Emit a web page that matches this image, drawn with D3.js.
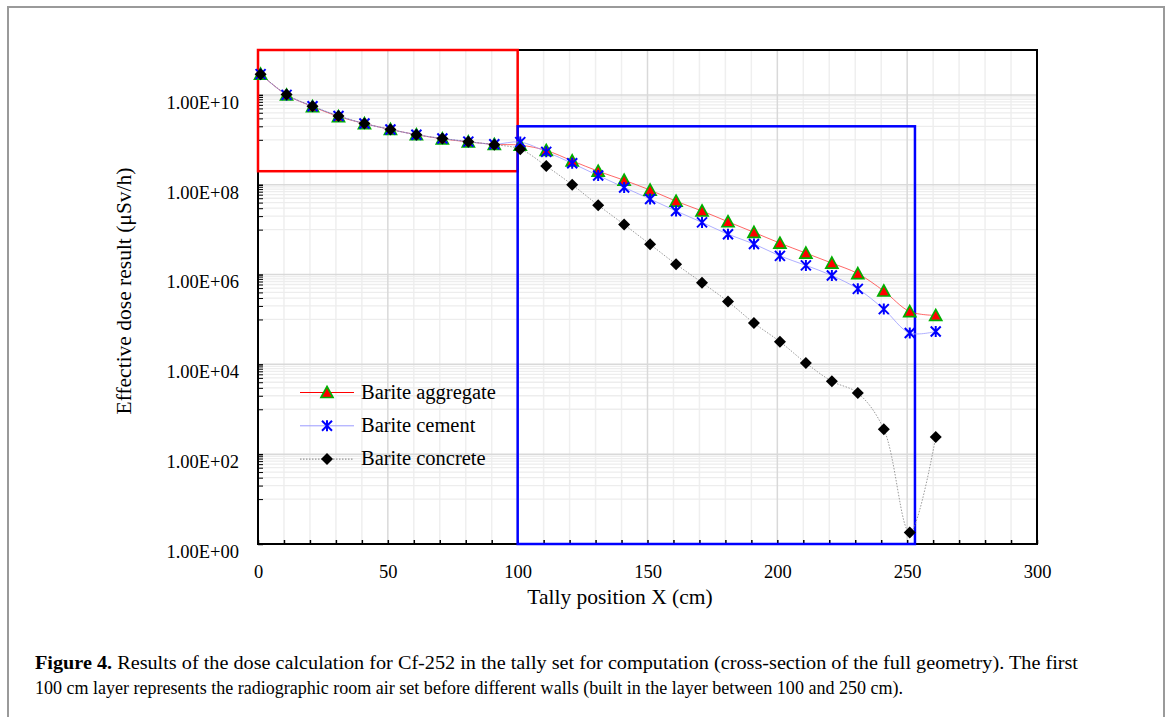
<!DOCTYPE html>
<html>
<head>
<meta charset="utf-8" />
<title>Figure 4 - dose vs tally position</title>
<script src="https://cdn.jsdelivr.net/npm/d3@7"></script>
<style>
  html, body { margin: 0; padding: 0; background: #fff; }
  svg { display: block; }
  text { font-family: "Liberation Serif", "Times New Roman", serif; fill: #000; }
</style>
</head>
<body>
<svg id="chart" width="1170" height="717"></svg>
<script>
// tally positions (cm)
var positions = [1, 11, 21, 31, 41, 51, 61, 71, 81, 91, 101, 111, 121, 131, 141,
                 151, 161, 171, 181, 191, 201, 211, 221, 231, 241, 251, 261];

// effective dose (uSv/h)
var aggregate = [2.9e10, 1.0e10, 5.5e9, 3.3e9, 2.3e9, 1.7e9, 1.3e9, 1.05e9, 9.0e8, 7.9e8,
                 7.6e8, 5.8e8, 3.4e8, 2.0e8, 1.26e8, 7.6e7, 4.3e7, 2.6e7, 1.5e7, 8.7e6,
                 5.0e6, 3.0e6, 1.8e6, 1.05e6, 4.3e5, 1.5e5, 1.23e5];
var cement    = [2.9e10, 1.0e10, 5.6e9, 3.4e9, 2.3e9, 1.7e9, 1.3e9, 1.07e9, 9.1e8, 8.0e8,
                 8.9e8, 5.4e8, 3.0e8, 1.6e8, 8.7e7, 4.8e7, 2.6e7, 1.45e7, 7.9e6, 4.8e6,
                 2.6e6, 1.6e6, 9.5e5, 4.8e5, 1.7e5, 5.0e4, 5.4e4];
var concrete  = [2.9e10, 1.02e10, 5.6e9, 3.4e9, 2.3e9, 1.7e9, 1.3e9, 1.07e9, 9.1e8, 7.8e8,
                 6.2e8, 2.6e8, 1.0e8, 3.5e7, 1.3e7, 4.7e6, 1.7e6, 6.6e5, 2.5e5, 8.3e4,
                 3.2e4, 1.07e4, 4.2e3, 2.3e3, 3.6e2, 1.8, 2.4e2];

var seriesNames = ["Barite aggregate", "Barite cement", "Barite concrete"];

var xTicks = [0, 50, 100, 150, 200, 250, 300];
var yTicks = [1, 1e2, 1e4, 1e6, 1e8, 1e10];

// highlighted regions: [x0, x1, yLow, yHigh]
var airBox = [0, 100, 2e8, 1e11];
var wallBox = [100, 253, 1, 2e9];

var captionLines = [
  "Results of the dose calculation for Cf-252 in the tally set for computation (cross-section of the full geometry). The first",
  "100 cm layer represents the radiographic room air set before different walls (built in the layer between 100 and 250 cm)."
];

var svg = d3.select("#chart");
var L = 258, R = 1037, T = 50, B = 544;

var x = d3.scaleLinear().domain([0, 300]).range([L, R]);
var y = d3.scaleLog().domain([1, 1e11]).range([B, T]);

// outer page frame
svg.append("rect").attr("x", 8).attr("y", 7).attr("width", 1156).attr("height", 730)
  .attr("fill", "none").attr("stroke", "#9a9a9a").attr("stroke-width", 2);

// minor log values: j * 10^(2k+1)
var minorY = [];
for (var k = 0; k < 5; k++) {
  for (var j = 1; j <= 9; j++) minorY.push(j * Math.pow(10, 2 * k + 1));
}
var minorX = d3.range(0, 301, 10);

var grid = svg.append("g");
grid.selectAll(".vmin").data(minorX.filter(function(d){ return d % 50 != 0; })).enter().append("line")
  .attr("x1", x).attr("x2", x).attr("y1", T).attr("y2", B)
  .attr("stroke", "#efefef").attr("stroke-width", 1.5);
grid.selectAll(".hmin").data(minorY).enter().append("line")
  .attr("x1", L).attr("x2", R).attr("y1", y).attr("y2", y)
  .attr("stroke", "#ededed").attr("stroke-width", 1.3);
grid.selectAll(".vmaj").data(xTicks).enter().append("line")
  .attr("x1", x).attr("x2", x).attr("y1", T).attr("y2", B)
  .attr("stroke", "#d9d9d9").attr("stroke-width", 1.5);
grid.selectAll(".hmaj").data(yTicks).enter().append("line")
  .attr("x1", L).attr("x2", R).attr("y1", y).attr("y2", y)
  .attr("stroke", "#d9d9d9").attr("stroke-width", 1.5);

// axes
var xAxis = d3.axisBottom(x).tickValues(minorX).tickSizeInner(-4).tickSizeOuter(0).tickPadding(21)
  .tickFormat(function(d){ return d % 50 == 0 ? d : ""; });
var gx = svg.append("g").attr("transform", "translate(0," + B + ")").call(xAxis);
gx.select(".domain").remove();
gx.selectAll("line").attr("stroke", "#000").attr("stroke-width", 1.5);
gx.selectAll("text").attr("font-size", 18.5).attr("font-family", "Liberation Serif");

var gyMinor = svg.append("g").attr("transform", "translate(" + L + ",0)")
  .call(d3.axisLeft(y).tickValues(minorY).tickSizeInner(-5).tickSizeOuter(0).tickFormat(""));
gyMinor.select(".domain").remove();
gyMinor.selectAll("line").attr("stroke", "#000").attr("stroke-width", 1);

var gy = svg.append("g").attr("transform", "translate(" + L + ",0)")
  .call(d3.axisLeft(y).tickValues(yTicks).tickSizeInner(-5).tickSizeOuter(0).tickPadding(19)
    .tickFormat(function(d){
      var e = Math.round(Math.log10(d));
      return "1.00E+" + (e < 10 ? "0" + e : e);
    }));
gy.select(".domain").remove();
gy.selectAll("line").attr("stroke", "#000").attr("stroke-width", 1.5);
gy.selectAll("text").attr("font-size", 18.5).attr("font-family", "Liberation Serif").attr("dy", "0.72em");

// plot frame
svg.append("rect").attr("x", L).attr("y", T).attr("width", R - L).attr("height", B - T)
  .attr("fill", "none").attr("stroke", "#000").attr("stroke-width", 2);

// axis titles
svg.append("text").attr("x", 620).attr("y", 604).attr("text-anchor", "middle")
  .attr("font-size", 21.5).text("Tally position X (cm)");
svg.append("text").attr("transform", "translate(131,291) rotate(-90)").attr("text-anchor", "middle")
  .attr("font-size", 21.5).text("Effective dose result (\u03bcSv/h)");

// region boxes
svg.append("rect").attr("x", x(airBox[0])).attr("y", y(airBox[3]))
  .attr("width", x(airBox[1]) - x(airBox[0])).attr("height", y(airBox[2]) - y(airBox[3]))
  .attr("fill", "none").attr("stroke", "#ff0000").attr("stroke-width", 2.5);
svg.append("rect").attr("x", x(wallBox[0])).attr("y", y(wallBox[3]))
  .attr("width", x(wallBox[1]) - x(wallBox[0])).attr("height", y(wallBox[2]) - y(wallBox[3]))
  .attr("fill", "none").attr("stroke", "#0000ff").attr("stroke-width", 2.5);

// series
svg.append("clipPath").attr("id", "clip").append("rect")
  .attr("x", L).attr("y", T).attr("width", R - L).attr("height", B - T);

var styles = [
  { values: aggregate, line: "#ff4040", dash: null, marker: "tri" },
  { values: cement, line: "#9a9aff", dash: null, marker: "star" },
  { values: concrete, line: "#808080", dash: "1.5,1.5", marker: "dia" }
];

var line = d3.line().curve(d3.curveCatmullRom.alpha(0.5))
  .x(function(d){ return x(d[0]); }).y(function(d){ return y(d[1]); });

function drawMarker(g, kind) {
  if (kind == "tri") {
    g.append("path").attr("d", "M0,-6L6,5L-6,5Z")
      .attr("fill", "#ff0000").attr("stroke", "#00b000").attr("stroke-width", 1.7);
  } else if (kind == "star") {
    g.append("path").attr("d", "M-5,-5L5,5M-5,5L5,-5M0,-5.5L0,5.5")
      .attr("fill", "none").attr("stroke", "#0000ff").attr("stroke-width", 2);
  } else {
    g.append("path").attr("d", "M0,-6L6,0L0,6L-6,0Z").attr("fill", "#000");
  }
}

styles.forEach(function(s) {
  var pts = positions.map(function(p, i){ return [p, s.values[i]]; });
  svg.append("path").datum(pts).attr("d", line).attr("clip-path", "url(#clip)")
    .attr("fill", "none").attr("stroke", s.line).attr("stroke-width", 0.8)
    .attr("stroke-dasharray", s.dash);
});
styles.forEach(function(s) {
  var pts = positions.map(function(p, i){ return [p, s.values[i]]; });
  svg.append("g").selectAll("g").data(pts).enter().append("g")
    .attr("transform", function(d){ return "translate(" + x(d[0]) + "," + y(d[1]) + ")"; })
    .each(function(){ drawMarker(d3.select(this), s.marker); });
});

// legend
var leg = svg.append("g");
seriesNames.forEach(function(name, i) {
  var cy = 392.5 + i * 33.3;
  leg.append("line").attr("x1", 300).attr("x2", 354).attr("y1", cy).attr("y2", cy)
    .attr("stroke", i == 0 ? "#ff0000" : styles[i].line).attr("stroke-width", 1)
    .attr("stroke-dasharray", styles[i].dash);
  drawMarker(leg.append("g").attr("transform", "translate(327," + cy + ")"), styles[i].marker);
  leg.append("text").attr("x", 361).attr("y", cy + 6).attr("font-size", 20.5).text(name);
});

// caption
var cap1 = svg.append("text").attr("x", 35).attr("y", 669).attr("font-size", 18.5)
  .attr("textLength", 1043).attr("lengthAdjust", "spacingAndGlyphs");
cap1.append("tspan").attr("font-weight", "bold").text("Figure 4.");
cap1.append("tspan").text(" " + captionLines[0]);
svg.append("text").attr("x", 35).attr("y", 694).attr("font-size", 18.5)
  .attr("textLength", 868).attr("lengthAdjust", "spacingAndGlyphs").text(captionLines[1]);
</script>
</body>
</html>
